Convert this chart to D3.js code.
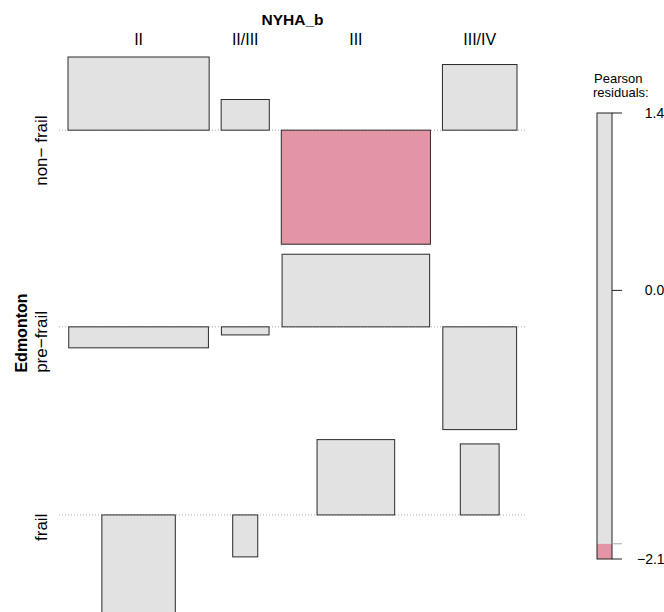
<!DOCTYPE html>
<html>
<head>
<meta charset="utf-8">
<script src="https://cdn.jsdelivr.net/npm/d3@7"></script>
<style>
  html, body { margin: 0; padding: 0; background: #fff; }
  svg { display: block; font-family: "Liberation Sans", Arial, Helvetica, sans-serif; }
</style>
</head>
<body>
<svg id="chart" width="664" height="612"></svg>
<script>
// Association plot: Edmonton frailty class (rows) against NYHA_b class (columns).
// Box width ~ sqrt(expected count), box height ~ Pearson residual.

const rowVar = "Edmonton";
const colVar = "NYHA_b";
const rowLevels = ["non\u2212 frail", "pre\u2212frail", "frail"];
const colLevels = ["II", "II/III", "III", "III/IV"];

// Marginal totals, giving the expected counts under independence
const rowTotals = [48, 47, 13];
const colTotals = [43, 5, 48, 12];

// Pearson residuals, one array per Edmonton class (columns in colLevels order)
const resNonFrail = [1.36, 0.57, -2.12, 1.22];
const resPreFrail = [-0.39, -0.15, 1.35, -1.91];
const resFrail = [-1.86, -0.78, 1.40, 1.32];

// Shading cut-off for the residual colours
const shadeCutoff = 2;

const residuals = [resNonFrail, resPreFrail, resFrail];

const svg = d3.select("#chart");
const grey = "#E2E2E2", pink = "#E495A5";
const shade = r => (Math.abs(r) >= shadeCutoff ? (r < 0 ? pink : "#8DA3D6") : grey);

// ---- layout of the main panel ----
const panel = { left: 68, right: 517, top: 57, bottom: 615 };
const colGap = 12, rowGap = 10;

const n = d3.sum(rowTotals);
const sqrtE = rowTotals.map(r => colTotals.map(c => Math.sqrt(r * c / n)));
const colMax = colLevels.map((_, j) => d3.max(sqrtE, row => row[j]));

// horizontal: one unit scale for sqrt(expected)
const xUnit = d3.scaleLinear()
  .domain([0, d3.sum(colMax)])
  .range([0, panel.right - panel.left - colGap * (colLevels.length - 1)]);
const colStart = [];
colMax.reduce((acc, w, j) => { colStart[j] = acc; return acc + xUnit(w) + colGap; }, panel.left);
const colCenter = colMax.map((w, j) => colStart[j] + xUnit(w) / 2);

// vertical: each row spans its largest positive and negative residual
const rowHi = residuals.map(r => Math.max(0, d3.max(r)));
const rowLo = residuals.map(r => Math.min(0, d3.min(r)));
const yUnit = d3.scaleLinear()
  .domain([0, d3.sum(rowHi) - d3.sum(rowLo)])
  .range([0, panel.bottom - panel.top - rowGap * (rowLevels.length - 1)]);
const rowScales = [];
residuals.reduce((top, r, i) => {
  const h = yUnit(rowHi[i] - rowLo[i]);
  rowScales[i] = d3.scaleLinear().domain([rowHi[i], rowLo[i]]).range([top, top + h]);
  return top + h + rowGap;
}, panel.top);

// baselines (dotted)
const gBase = svg.append("g");
rowScales.forEach(ys => {
  gBase.append("line")
    .attr("x1", panel.left - 9).attr("x2", panel.right + 8)
    .attr("y1", ys(0)).attr("y2", ys(0))
    .attr("stroke", "#a8a8a8").attr("stroke-width", 1)
    .attr("stroke-dasharray", "1,2");
});

// boxes
const cells = [];
residuals.forEach((r, i) => r.forEach((v, j) => cells.push({ i, j, v, w: sqrtE[i][j] })));
svg.append("g").selectAll("rect").data(cells).join("rect")
  .attr("x", d => colCenter[d.j] - xUnit(d.w) / 2)
  .attr("width", d => xUnit(d.w))
  .attr("y", d => Math.min(rowScales[d.i](d.v), rowScales[d.i](0)))
  .attr("height", d => Math.abs(rowScales[d.i](d.v) - rowScales[d.i](0)))
  .attr("fill", d => shade(d.v))
  .attr("stroke", "#2a2a2a").attr("stroke-width", 1);

// column labels and variable name
svg.append("text").attr("x", (panel.left + panel.right) / 2).attr("y", 25)
  .attr("text-anchor", "middle").attr("font-size", 15.5).attr("font-weight", "bold")
  .text(colVar);
svg.append("g").selectAll("text").data(colLevels).join("text")
  .attr("x", (d, j) => colCenter[j]).attr("y", 45)
  .attr("text-anchor", "middle").attr("font-size", 16)
  .text(d => d);

// row labels and variable name
svg.append("g").selectAll("text").data(rowLevels).join("text")
  .attr("transform", (d, i) => {
    const [a, b] = rowScales[i].range();
    return `translate(47,${(a + b) / 2}) rotate(-90)`;
  })
  .attr("text-anchor", "middle").attr("font-size", 17)
  .text(d => d);
svg.append("text")
  .attr("transform", `translate(27,${(panel.top + panel.bottom) / 2 - 3}) rotate(-90)`)
  .attr("text-anchor", "middle").attr("font-size", 16).attr("font-weight", "bold")
  .text(rowVar);

// ---- legend ----
const allRes = residuals.flat();
const resMax = d3.max(allRes), resMin = d3.min(allRes);
const leg = { x: 597, w: 15, top: 113, bottom: 559 };
const yLeg = d3.scaleLinear().domain([resMax, resMin]).range([leg.top, leg.bottom]);

const gLeg = svg.append("g");
gLeg.append("text").attr("x", 594).attr("y", 83).attr("font-size", 13).text("Pearson");
gLeg.append("text").attr("x", 593).attr("y", 97).attr("font-size", 13).text("residuals:");

const bounds = [resMax, ...[shadeCutoff, -shadeCutoff].filter(c => c < resMax && c > resMin), resMin]
  .sort((a, b) => b - a);
gLeg.selectAll("rect.bin").data(d3.pairs(bounds)).join("rect")
  .attr("class", "bin")
  .attr("x", leg.x).attr("width", leg.w)
  .attr("y", d => yLeg(d[0])).attr("height", d => yLeg(d[1]) - yLeg(d[0]))
  .attr("fill", d => shade((d[0] + d[1]) / 2));
gLeg.append("rect")
  .attr("x", leg.x).attr("y", leg.top).attr("width", leg.w).attr("height", leg.bottom - leg.top)
  .attr("fill", "none").attr("stroke", "#222").attr("stroke-width", 1);

const fmt = d3.format(".2f");
const tickVals = [resMax, 0, resMin];
const cutTicks = [shadeCutoff, -shadeCutoff].filter(c => c < resMax && c > resMin);
gLeg.selectAll("line.cut").data(cutTicks).join("line")
  .attr("class", "cut")
  .attr("x1", leg.x + leg.w).attr("x2", leg.x + leg.w + 10)
  .attr("y1", d => yLeg(d)).attr("y2", d => yLeg(d))
  .attr("stroke", "#aaa");
gLeg.selectAll("line.tick").data(tickVals).join("line")
  .attr("class", "tick")
  .attr("x1", leg.x + leg.w).attr("x2", leg.x + leg.w + 10)
  .attr("y1", d => yLeg(d)).attr("y2", d => yLeg(d))
  .attr("stroke", "#222");
gLeg.selectAll("text.tl").data(tickVals).join("text")
  .attr("class", "tl")
  .attr("x", 637).attr("y", d => yLeg(d) + 5)
  .attr("font-size", 14)
  .text(d => (d < 0 ? "" : "\u2007") + fmt(d));
</script>
</body>
</html>
